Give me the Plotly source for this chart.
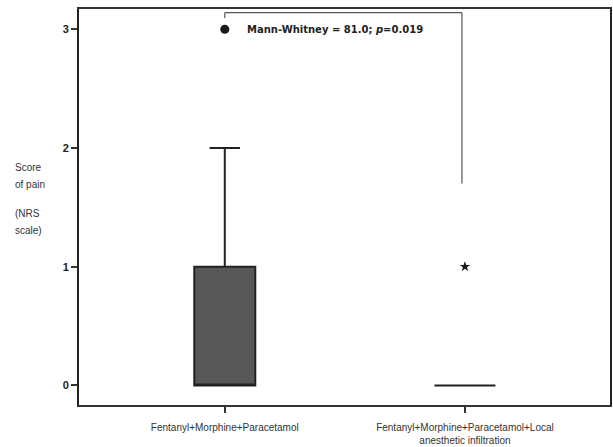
import plotly.graph_objects as go

# ---- data ----
groups = ["Fentanyl+Morphine+Paracetamol",
          "Fentanyl+Morphine+Paracetamol+Local<br>anesthetic infiltration"]
positions = [0, 1]
q1 = [0, 0]
median = [0, 0]
q3 = [1, 0]
lower = [0, 0]
upper = [2, 0]
outlier_pos = [0, 1]
outlier_val = [3, 1]
outlier_symbol = ["circle", "star"]
outlier_size = [9, 8]
yticks = [0, 1, 2, 3]
test_text = "Mann-Whitney = 81.0; <i>p</i>=0.019"
bracket_top = 3.14
bracket_left_end = 3.095
bracket_right_end = 1.70
ylabel_lines = ["Score", "of pain", "(NRS", "scale)"]
ylabel_px = [167, 184, 213, 230]   # page pixel rows of the y-title lines

W, H = 613, 447
ml, mr, mt, mb = 79, 3, 9, 42
plot_h = H - mt - mb
plot_w = W - ml - mr


def paper_x(px):
    return (px - ml) / plot_w


def paper_y(py):
    return (H - mb - py) / plot_h


fig = go.Figure()

for i in range(len(positions)):
    fig.add_trace(go.Box(
        x=[positions[i]], q1=[q1[i]], median=[median[i]], q3=[q3[i]],
        lowerfence=[lower[i]], upperfence=[upper[i]],
        width=0.254, whiskerwidth=0.5,
        fillcolor="#585858", line=dict(color="#222222", width=2),
        boxpoints=False, showlegend=False, hoverinfo="skip",
    ))

for i in range(len(outlier_pos)):
    fig.add_trace(go.Scatter(
        x=[outlier_pos[i]], y=[outlier_val[i]], mode="markers",
        marker=dict(symbol=outlier_symbol[i], size=outlier_size[i], color="#1a1a1a",
                    line=dict(width=0)),
        showlegend=False, hoverinfo="skip",
    ))

# significance bracket
bracket_color = "#555555"
bx1 = positions[1] - 0.0125
fig.add_shape(type="line", xref="x", yref="y", x0=positions[0], x1=bx1,
              y0=bracket_top, y1=bracket_top, line=dict(color=bracket_color, width=1.2))
fig.add_shape(type="line", xref="x", yref="y", x0=positions[0], x1=positions[0],
              y0=bracket_top, y1=bracket_left_end, line=dict(color=bracket_color, width=1.2))
fig.add_shape(type="line", xref="x", yref="y", x0=bx1, x1=bx1,
              y0=bracket_top, y1=bracket_right_end, line=dict(color=bracket_color, width=1.2))

fig.add_annotation(x=positions[0] + 0.085, y=outlier_val[0], xref="x", yref="y",
                   text="<b>" + test_text + "</b>", showarrow=False, xanchor="left",
                   yanchor="middle",
                   font=dict(family="DejaVu Sans", size=10, color="#222222"))

for txt, py in zip(ylabel_lines, ylabel_px):
    fig.add_annotation(x=paper_x(13), y=paper_y(py), xref="paper", yref="paper",
                       text=txt, showarrow=False, xanchor="left", yanchor="middle",
                       font=dict(family="Liberation Sans", size=10, color="#333333"))

fig.update_layout(
    width=W, height=H,
    margin=dict(l=ml, r=mr, t=mt, b=mb, autoexpand=False),
    paper_bgcolor="white", plot_bgcolor="white",
    xaxis=dict(range=[-0.607, 1.604], tickvals=positions, ticktext=groups,
               automargin=False,
               showgrid=False, zeroline=False, showline=True, mirror=True,
               linecolor="#333333", linewidth=1.5, ticks="outside", ticklen=6,
               tickwidth=2, tickcolor="#333333", ticklabelstandoff=6,
               tickfont=dict(family="Liberation Sans", size=10, color="#333333")),
    yaxis=dict(range=[-0.165, 3.171], tickvals=yticks,
               ticktext=["<b>%d</b>" % v for v in yticks],
               automargin=False,
               showgrid=False, zeroline=False, showline=True, mirror=True,
               linecolor="#222222", linewidth=2, ticks="outside", ticklen=6,
               tickwidth=1.5, tickcolor="#333333",
               tickfont=dict(family="Liberation Sans", size=11, color="#222222")),
)

fig.write_html(
    "out.html",
    config={"displayModeBar": False},
    post_script="document.body.style.margin='0';document.body.style.overflow='hidden';",
)
